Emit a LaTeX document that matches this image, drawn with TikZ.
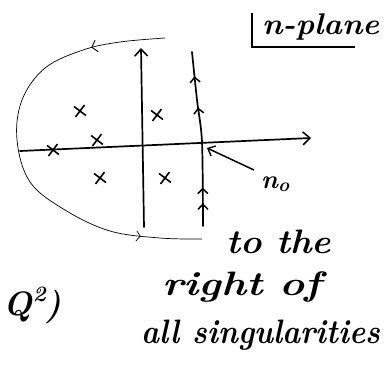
\documentclass[tikz,border=0pt]{standalone}
\usepackage{fontspec}
\setmainfont{Latin Modern Roman}
\usetikzlibrary{arrows.meta,decorations.markings,shapes.misc}
\begin{document}
\begin{tikzpicture}[x=1bp,y=-1bp,
  axis/.style={line width=1.7bp, line cap=round},
  openhead/.style={-{Straight Barb[length=7bp,width=13bp,line width=1.5bp]}},
  xmark/.style={cross out, draw, line width=1.6bp, minimum size=9bp, inner sep=0, rotate=8},
  hand/.style={inner sep=0, transform shape, anchor=base west, font={\bfseries\itshape\fontsize{34}{34}\selectfont}}]
\useasboundingbox (0,0) rectangle (391,371);
\clip (0,0) rectangle (391,371);
% closing contour (thin arc)
\draw[line width=0.7bp,
  postaction={decorate},
  decoration={markings,
    mark=at position 0.17 with {\arrow{Straight Barb[length=5bp,width=12bp,line width=0.9bp]}},
    mark=at position 0.86 with {\arrow{Straight Barb[length=4bp,width=10bp,line width=0.7bp]}}}]
  plot[smooth, tension=0.6] coordinates {(165,38) (120,42) (83,50) (45,68) (22,100) (17,140) (30,182) (65,210) (110,231) (160,238) (202,239)};
% real axis
\coordinate (xl) at (20,151);
\coordinate (xr) at (311,138);
\draw[axis, openhead] (xl) -- (xr);
% imaginary axis
\coordinate (yb) at (144,227);
\coordinate (yt) at (141,48);
\draw[axis, openhead] (yb) -- (yt);
% integration contour
\draw[axis, postaction={decorate},
  decoration={markings,
    mark=at position 0.13 with {\arrow{Straight Barb[length=5bp,width=10bp,line width=1.5bp]}},
    mark=at position 0.22 with {\arrow{Straight Barb[length=5bp,width=10bp,line width=1.5bp]}},
    mark=at position 0.68 with {\arrow{Straight Barb[length=5bp,width=10bp,line width=1.5bp]}},
    mark=at position 0.86 with {\arrow{Straight Barb[length=5bp,width=10bp,line width=1.5bp]}}}]
  plot[smooth] coordinates {(203,226) (202,142) (197,100) (192,52)};
\coordinate (c0) at (207,148);
% singularities
\node[xmark] (s1) at (80,111) {};
\node[xmark] (s2) at (157,115) {};
\node[xmark] (s3) at (53,150) {};
\node[xmark] (s4) at (97,140) {};
\node[xmark] (s5) at (100,178) {};
\node[xmark] (s6) at (165,178) {};
% n0 label
\node[hand, font={\bfseries\itshape\fontsize{26}{26}\selectfont}] (n0) at (261,188) {n\raisebox{-0.3ex}{\fontsize{19}{19}\selectfont o}};
\coordinate (a0) at (254,170);
\draw[line width=1.5bp, -{Straight Barb[length=6bp,width=11bp,line width=1.4bp]}] (a0) -- (c0);
% n-plane label
\node[hand, font={\bfseries\itshape\fontsize{30}{30}\selectfont}, xscale=1.05] (np) at (262,34) {n-plane};
\draw[line width=1.5bp] (252,13) -- (252,47) -- (355,47);
% text block
\node[hand, xscale=1.07] (t1) at (226,253) {to the};
\node[hand, xscale=1.25] (t2) at (162,295) {right of};
\node[hand, xscale=0.9] (t3) at (141,343) {all singularities};
\node[hand, anchor=base east] (q2) at (62,315) {Q\raisebox{0.9ex}{\fontsize{22}{22}\selectfont 2})};
\end{tikzpicture}
\end{document}
